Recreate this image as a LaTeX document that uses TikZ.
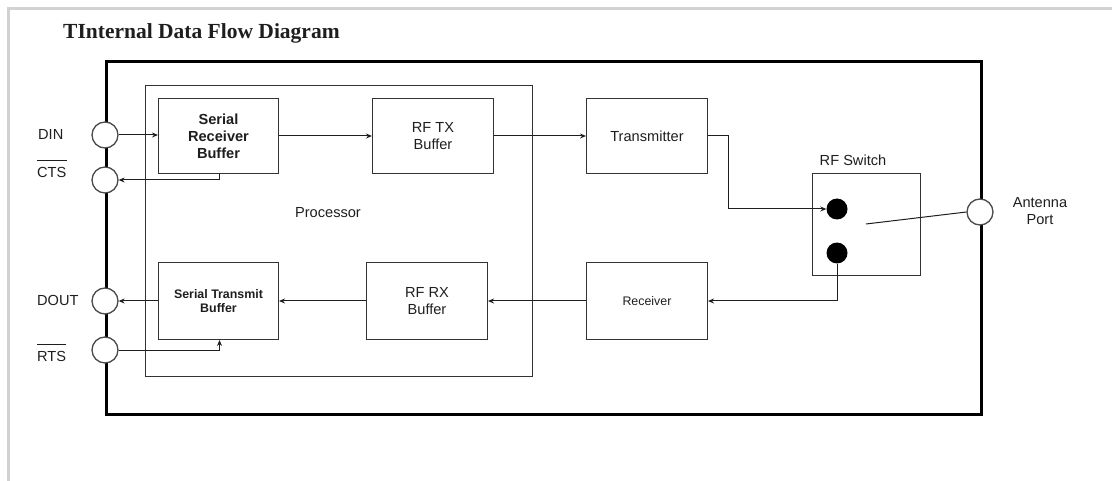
\documentclass[tikz,border=0pt]{standalone}
\usepackage{fontspec}
\setmainfont{Liberation Sans}
\newfontfamily\titlefont{Liberation Serif}
\usetikzlibrary{arrows.meta,calc}
\definecolor{framegray}{HTML}{D2D2D2}
\definecolor{boxline}{HTML}{333333}
\definecolor{portline}{HTML}{4A4A4A}
\definecolor{ink}{HTML}{1E1E1E}
\begin{document}
\begin{tikzpicture}[x=1pt,y=-1pt,
  blk/.style={draw=boxline, line width=1pt, inner sep=0pt, anchor=north west,
    align=center, text=ink, font=\fontsize{14.6}{17}\selectfont},
  smallblk/.style={blk, font=\fontsize{12.4}{14}\selectfont},
  port/.style={circle, draw=portline, line width=1.3pt, fill=white,
    minimum size=26pt, inner sep=0pt},
  contact/.style={circle, fill=black, minimum size=21pt, inner sep=0pt},
  lbl/.style={text=ink, inner sep=0pt, align=center, font=\fontsize{14.6}{17}\selectfont},
  arr/.style={-{Stealth[length=6pt,width=5pt]}, line width=1pt, draw=ink},
  wire/.style={line width=1pt, draw=ink}]

\useasboundingbox (0,0) rectangle (1112,481);

% page frame
\draw[framegray, line width=3.5pt] (8.5,481) -- (8.5,8.5) -- (1112,8.5);

% title
\node[anchor=base west, inner sep=0pt, text=ink, font=\titlefont\bfseries\fontsize{21.5}{24}\selectfont]
  (title) at (63,39) {TInternal Data Flow Diagram};

% module outline and processor
\node[draw=black, line width=3pt, minimum width=875pt, minimum height=353pt,
  inner sep=0pt, anchor=north west] (dev) at (105,60) {};
\node[draw=boxline, line width=1pt, minimum width=387pt, minimum height=291pt,
  inner sep=0pt, anchor=north west] (proc) at (145,85) {};
\node[lbl] (procl) at (328,213) {Processor};

% functional blocks
\node[blk, minimum width=120pt, minimum height=75pt] (srb) at (158,98) {\bfseries Serial\\ \bfseries Receiver\\ \bfseries Buffer};
\node[blk, minimum width=121pt, minimum height=75pt] (rftx) at (372,98) {RF TX\\ Buffer};
\node[blk, minimum width=121pt, minimum height=75pt] (tx) at (586,98) {Transmitter};
\node[smallblk, minimum width=120pt, minimum height=77pt] (stb) at (158,262) {\bfseries Serial Transmit\\ \bfseries Buffer};
\node[blk, minimum width=121pt, minimum height=77pt] (rfrx) at (366,262) {RF RX\\ Buffer};
\node[smallblk, minimum width=121pt, minimum height=77pt] (rx) at (586,262) {Receiver};

% RF switch
\node[draw=boxline, line width=1pt, minimum width=108pt, minimum height=102pt,
  inner sep=0pt, anchor=north west] (sw) at (812,173) {};
\node[lbl] (swl) at (853,160) {RF Switch};
\node[contact] (dot1) at (837,209) {};
\node[contact] (dot2) at (837,253) {};
\coordinate (pivot) at (866,224);

% ports
\node[port] (din) at (105,135) {};
\node[port] (cts) at (105,180) {};
\node[port] (dout) at (105,301) {};
\node[port] (rts) at (105,350) {};
\node[port] (ant) at (980,212) {};

% port labels
\node[lbl, anchor=base west] (dinl) at (38,140) {DIN};
\node[lbl, anchor=base west] (ctsl) at (37,178) {CTS};
\node[lbl, anchor=base west] (doutl) at (37,306) {DOUT};
\node[lbl, anchor=base west] (rtsl) at (37,362) {RTS};
\node[lbl] (antl) at (1040,211.5) {Antenna\\ Port};
\draw[wire] ([yshift=7pt]ctsl.north west) -- ([yshift=7pt]ctsl.north east);
\draw[wire] ([yshift=7pt]rtsl.north west) -- ([yshift=7pt]rtsl.north east);

% transmit path
\draw[arr] (din.east) -- (din.east -| srb.west);
\draw[arr] ([xshift=1pt]srb.south) |- (cts.east);
\draw[arr] (srb.east) -- (rftx.west);
\draw[arr] (rftx.east) -- (tx.west);
\draw[arr] (tx.east) -- ++(20,0) |- (dot1.west);

% switch arm
\draw[wire] (pivot) -- (ant.west);

% receive path
\draw[arr] (dot2.south) |- (rx.east);
\draw[arr] (rx.west) -- (rfrx.east);
\draw[arr] (rfrx.west) -- (stb.east);
\draw[arr] (stb.west) -- (stb.west -| dout.east);
\draw[arr] (rts.east) -| ([xshift=1pt]stb.south);

\end{tikzpicture}
\end{document}
